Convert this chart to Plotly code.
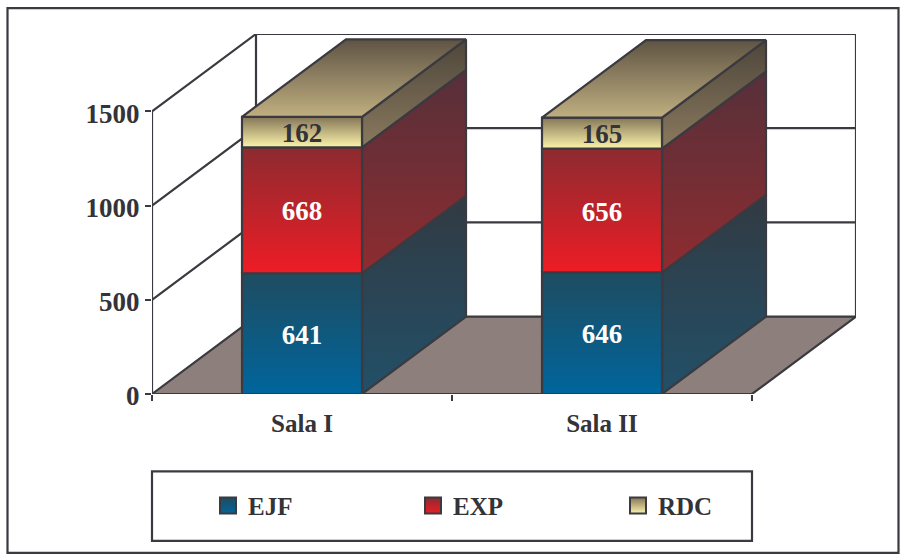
import plotly.graph_objects as go

categories = ["Sala I", "Sala II"]
series_names = ["EJF", "EXP", "RDC"]
ejf = [641, 646]
exp = [668, 656]
rdc = [162, 165]
y_ticks = [0, 500, 1000, 1500]
series_values = [ejf, exp, rdc]

front_colors = [("#1f4c60", "#00659c"), ("#8c2b30", "#ee1c25"), ("#857658", "#fdf4aa")]
side_colors = [("#323a42", "#225068"), ("#56303a", "#8e2c30"), ("#4e463b", "#8a7a5e")]
top_colors = ("#5f5444", "#c0af80")
label_colors = ["white", "white", "#333338"]
INK = "#3a3a40"
FLOOR = "#8d807c"
FONT = "Liberation Serif"

# pixel layout of the plot and oblique projection (depth expressed in axis units)
W, H = 903, 556
L, R, T, B = 152, 856, 33.5, 394
PX_PER_CAT = 300.0
PX_PER_UNIT = 283.0 / 1500
DX = 104 / PX_PER_CAT
DY = 77.5 / PX_PER_UNIT
BAR_HALF = 0.2
N = len(categories)


def px(v):
    return (v - L) / (R - L)


def py(v):
    return (B - v) / (B - T)


fig = go.Figure()


def poly(xs, ys, fill=None, grad=None, lw=2.2):
    kw = dict(
        x=xs + xs[:1] if fill or grad else xs,
        y=ys + ys[:1] if fill or grad else ys,
        mode="lines",
        line=dict(color=INK, width=lw),
        hoverinfo="skip",
        showlegend=False,
        cliponaxis=False,
    )
    if grad:
        kw["fill"] = "toself"
        kw["fillgradient"] = dict(type="vertical", colorscale=[[0, grad[1]], [1, grad[0]]])
    elif fill:
        kw["fill"] = "toself"
        kw["fillcolor"] = fill
    fig.add_trace(go.Scatter(**kw))


top_tick = y_ticks[-1]
# back wall outline and floor
poly([DX, DX, N + DX, N + DX], [DY, top_tick + DY, top_tick + DY, DY])
poly([0, N, N + DX, DX], [0, 0, DY, DY], fill=FLOOR)
# left wall / back wall gridlines
for t in y_ticks[1:]:
    poly([0, DX, N + DX], [t, t + DY, t + DY])
poly([0, 0], [0, top_tick])

# bars
for i in range(N):
    c = i + 0.5
    x0, x1 = c - BAR_HALF, c + BAR_HALF
    base = 0
    for s, vals in enumerate(series_values):
        v = vals[i]
        poly([x1, x1 + DX, x1 + DX, x1], [base, base + DY, base + v + DY, base + v], grad=side_colors[s])
        poly([x0, x1, x1, x0], [base, base, base + v, base + v], grad=front_colors[s])
        base += v
    poly([x0, x1, x1 + DX, x0 + DX], [base, base, base + DY, base + DY], grad=(top_colors[0], top_colors[1]))

# value labels
for s, vals in enumerate(series_values):
    bases = [sum(series_values[k][i] for k in range(s)) for i in range(N)]
    fig.add_trace(go.Scatter(
        x=[i + 0.5 for i in range(N)],
        y=[b + v / 2 - 18 for b, v in zip(bases, vals)],
        text=[str(v) for v in vals],
        mode="text",
        textposition="middle center",
        textfont=dict(family=FONT, size=27, color=label_colors[s], weight=700),
        hoverinfo="skip",
        showlegend=False,
        cliponaxis=False,
    ))

# legend entries
for s, name in enumerate(series_names):
    fig.add_trace(go.Scatter(
        x=[None], y=[None], mode="markers", name=name,
        marker=dict(symbol="square", size=16, color=front_colors[s][0],
                    gradient=dict(type="vertical", color=front_colors[s][1]),
                    line=dict(color=INK, width=2)),
        hoverinfo="skip",
    ))

frame = dict(type="rect", xref="paper", yref="paper", layer="below", line=dict(color=INK, width=2.2), fillcolor="rgba(0,0,0,0)")
fig.update_layout(
    width=W, height=H,
    margin=dict(l=L, r=W - R, t=T, b=H - B, autoexpand=False),
    paper_bgcolor="white", plot_bgcolor="white",
    font=dict(family=FONT, size=25, color="#333338", weight=700),
    xaxis=dict(
        range=[0, N + DX], showgrid=False, zeroline=False, showline=False,
        tickmode="array", tickvals=[i + 0.5 for i in range(N)], ticktext=categories,
        ticks="", tickfont=dict(family=FONT, size=25, color="#333338", weight=700),
        ticklabelstandoff=12,
        minor=dict(tickmode="array", tickvals=list(range(N + 1)), ticks="outside", ticklen=6, tickwidth=2, tickcolor=INK, showgrid=False),
    ),
    yaxis=dict(
        range=[0, top_tick + DY], showgrid=False, zeroline=False, showline=False,
        tickmode="array", tickvals=y_ticks, ticktext=[str(t) for t in y_ticks],
        ticks="outside", ticklen=6, tickwidth=2, tickcolor=INK,
        tickfont=dict(family=FONT, size=27, color="#333338", weight=700),
        ticklabelstandoff=0, ticklabelshift=2,
    ),
    shapes=[
        dict(frame, x0=px(7.5), x1=px(898.5), y0=py(7.5), y1=py(553)),
        dict(frame, x0=px(152), x1=px(752), y0=py(471.5), y1=py(541)),
    ],
    legend=dict(
        orientation="h", x=px(515.5), y=py(506), xanchor="center", yanchor="middle",
        entrywidth=160, entrywidthmode="pixels", bgcolor="rgba(0,0,0,0)", borderwidth=0,
        itemsizing="trace",
        font=dict(family=FONT, size=25, color="#333338", weight=700),
    ),
    hovermode=False,
)
fig.write_html("out.html", config=dict(displayModeBar=False),
               post_script="document.body.style.margin='0';window.dispatchEvent(new Event('resize'));")
